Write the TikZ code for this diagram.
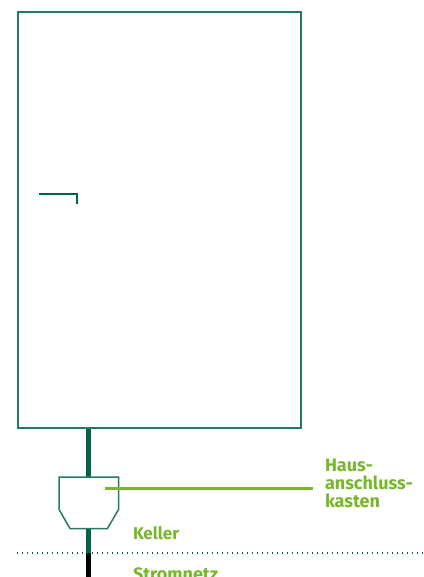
\documentclass[tikz,border=0pt]{standalone}
\usepackage{fontspec}
\setmainfont{Fira Sans}
\definecolor{dkgreen}{HTML}{00634A}
\definecolor{ltgreen}{HTML}{76B82A}
\tikzset{
  outline/.style={draw=dkgreen!85,line width=1.5pt,fill=white},
  feed/.style={draw=dkgreen,line width=5pt},
  grid/.style={draw=black,line width=5pt},
  leader/.style={draw=ltgreen,line width=2.4pt},
  thin line/.style={draw=dkgreen,line width=1.6pt},
  floorline/.style={draw=dkgreen,line width=1.2pt,dash pattern=on 1.2pt off 3.8pt},
  lbl/.style={text=ltgreen,font=\fontsize{18}{18}\selectfont\bfseries,anchor=base west,inner sep=0pt,outer sep=0pt,align=left}
}
\begin{document}
\begin{tikzpicture}[x=1pt,y=-1pt]
\useasboundingbox (0,0) rectangle (423,577);
\clip (0,0) rectangle (423,577);
\coordinate (houseBL) at (17.9,427.9);
\coordinate (houseTR) at (301.1,11.9);
\coordinate (feedTop) at (88,428);
\coordinate (boxTop) at (88,477);
\coordinate (boxBottom) at (88,528.5);
\coordinate (floorPt) at (88,553);
\coordinate (gridEnd) at (88,577);
\coordinate (floorL) at (17,553);
\coordinate (floorR) at (423,553);
\coordinate (leadStart) at (105,488.5);
\coordinate (leadEnd) at (313,488.5);
\coordinate (stubA) at (39,194);
\coordinate (stubB) at (77,194);
\coordinate (stubC) at (77,204);
\draw[feed] (feedTop) -- (boxTop);
\draw[feed] (boxBottom) -- (floorPt);
\draw[grid] (floorPt) -- (gridEnd);
\draw[outline] (houseBL) rectangle (houseTR);
\draw[thin line,line join=miter] (stubA) -- (stubB) -- (stubC);
\draw[outline] (59,477) -- (118.5,477) -- (118.5,509.5) -- (107.5,528.5) -- (70,528.5) -- (59,509.5) -- cycle;
\draw[floorline] (floorL) -- (floorR);
\draw[leader] (leadStart) -- (leadEnd);
\node[lbl] (kasten) at (325,507.5) {Haus-\\anschluss-\\kasten};
\node[lbl,font=\fontsize{17}{18}\selectfont\bfseries] (keller) at (133,539) {Keller};
\node[lbl] (netz) at (133,580) {Stromnetz};
\end{tikzpicture}
\end{document}
